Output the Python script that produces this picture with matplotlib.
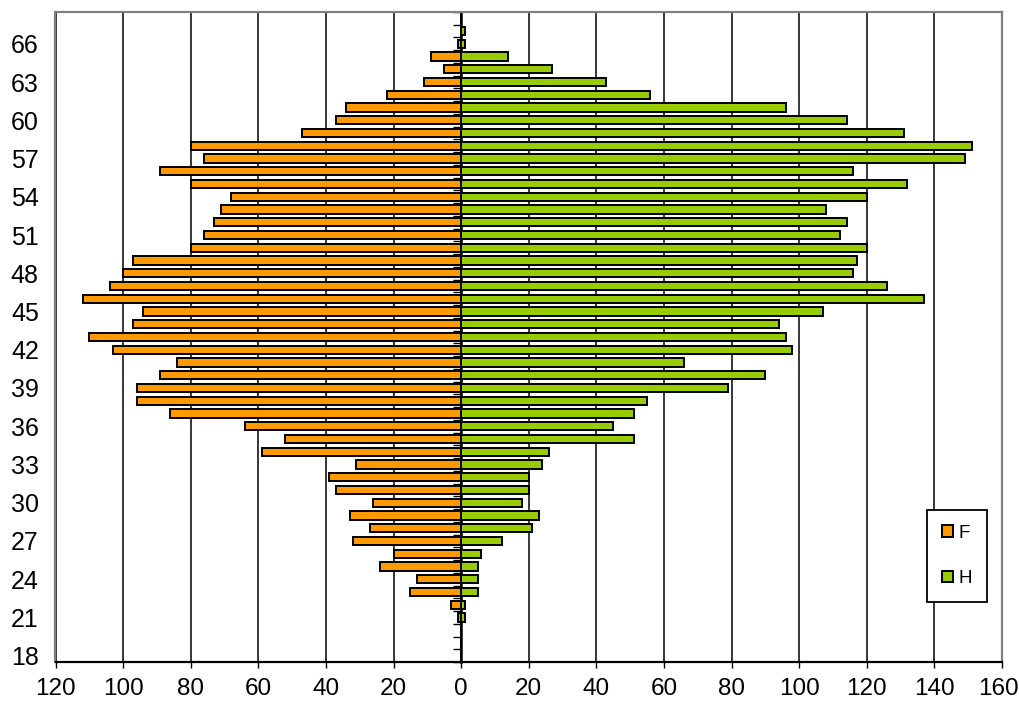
import numpy as np
import matplotlib.pyplot as plt
import matplotlib.transforms as mtransforms
from matplotlib.ticker import FuncFormatter

plt.rcParams['font.family'] = ['Liberation Sans', 'DejaVu Sans']

# ages 18..68, one value per age
ages = list(range(18, 69))
femmes = [0, 0, 0, 1, 3, 15, 13, 24, 20, 32,
          27, 33, 26, 37, 39, 31, 59, 52, 64, 86,
          96, 96, 89, 84, 103, 110, 97, 94, 112, 104,
          100, 97, 80, 76, 73, 71, 68, 80, 89, 76,
          80, 47, 37, 34, 22, 11, 5, 9, 1, 0,
          0]
hommes = [0, 0, 0, 1, 1, 5, 5, 5, 6, 12,
          21, 23, 18, 20, 20, 24, 26, 51, 45, 51,
          55, 79, 90, 66, 98, 96, 94, 107, 137, 126,
          116, 117, 120, 112, 114, 108, 120, 132, 116, 149,
          151, 131, 114, 96, 56, 43, 27, 14, 1, 1,
          0]
x_ticks = list(range(-120, 161, 20))

orange = '#FF9900'
green = '#99CC00'

fig = plt.figure(figsize=(10.2, 7.02), dpi=100)
ax = fig.add_axes([55.5 / 1020, 1 - 662 / 702, (1002 - 55.5) / 1020, (662 - 12) / 702])

pos = np.arange(len(ages))
ax.barh(pos, [-v for v in femmes], height=0.65, color=orange,
        edgecolor='black', linewidth=1.4, label='F', zorder=3)
ax.barh(pos, hommes, height=0.65, color=green,
        edgecolor='black', linewidth=1.4, label='H', zorder=3)

xmin, xmax = -120, 160
ax.set_xlim(xmin, xmax)
ax.set_ylim(-0.5, len(ages) - 0.5)

# vertical gridlines
ax.set_xticks(x_ticks)
ax.xaxis.set_major_formatter(FuncFormatter(lambda v, p: f'{abs(int(v))}'))
ax.grid(axis='x', color='black', linewidth=1.1)
ax.set_axisbelow(True)
ax.tick_params(axis='x', direction='out', length=4.3, width=1.0,
               labelsize=17.5, pad=7)

# category labels every 3 years
label_pos = [i for i, a in enumerate(ages) if (a - 18) % 3 == 0 and a <= 66]
ax.set_yticks(label_pos)
ax.set_yticklabels([str(ages[i]) for i in label_pos])
ax.tick_params(axis='y', length=0, labelsize=18, pad=12)

for side in ['left', 'top', 'right']:
    ax.spines[side].set_color('#808080')
    ax.spines[side].set_linewidth(1.6)
ax.spines['bottom'].set_color('black')
ax.spines['bottom'].set_linewidth(1.6)

# category axis crossing at 0
sec = ax.secondary_yaxis((0 - xmin) / (xmax - xmin))
sec.set_yticks(np.arange(-0.5, len(ages), 1.0))
sec.tick_params(axis='y', direction='out', length=5.5, width=1.0, labelleft=False)
sec.spines['left'].set_linewidth(1.8)
sec.spines['left'].set_color('black')

# keep the last x label inside the figure
last = ax.get_xticklabels()[-1]
last.set_transform(last.get_transform() +
                   mtransforms.ScaledTranslation(-4 / 100, 0, fig.dpi_scale_trans))

leg = ax.legend(loc='upper left', bbox_to_anchor=(927 / 1020, 1 - 510 / 702),
                bbox_transform=fig.transFigure, borderaxespad=0,
                fancybox=False, edgecolor='black', framealpha=1,
                fontsize=13.5, handlelength=0.6, handleheight=0.6,
                handletextpad=0.3, labelspacing=1.5, borderpad=0.8)
leg.get_frame().set_linewidth(1.3)

fig.savefig('out.png', dpi=100)
